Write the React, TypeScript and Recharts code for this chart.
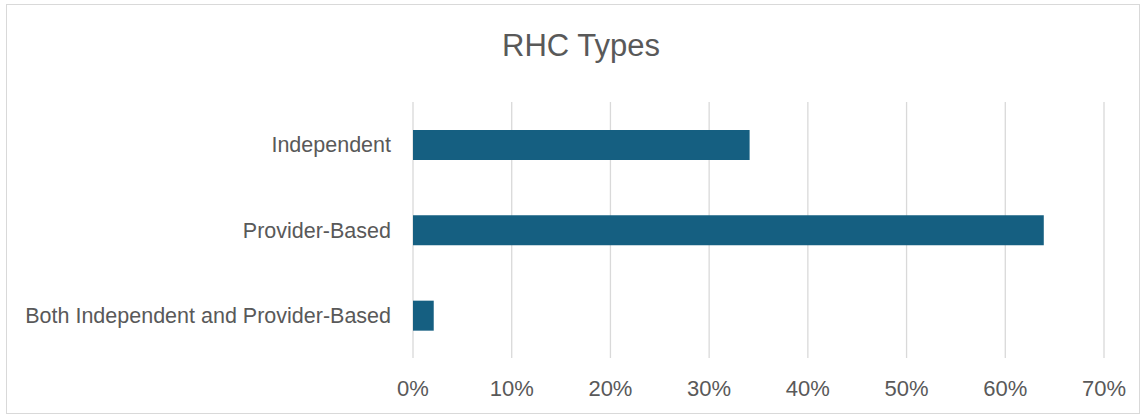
import { BarChart, Bar, XAxis, YAxis, CartesianGrid } from "recharts";

const categories = ["Independent", "Provider-Based", "Both Independent and Provider-Based"];
const shares = [0.341, 0.639, 0.021];
const xTicks = [0, 0.1, 0.2, 0.3, 0.4, 0.5, 0.6, 0.7];

const data = categories.map((name, i) => ({ name, share: shares[i] }));

const FONT = "'Liberation Sans', Arial, sans-serif";
const TEXT = "#595959";

export default function App() {
  return (
    <div style={{ position: "fixed", left: 0, top: 0, width: 1146, height: 418, background: "#fff", fontFamily: FONT }}>
      <div
        style={{
          position: "absolute",
          left: 6,
          top: 4,
          width: 1134,
          height: 410,
          border: "1px solid #d9d9d9",
          boxSizing: "border-box",
        }}
      />
      <div
        style={{
          position: "absolute",
          left: 8,
          width: 1146,
          top: 28,
          textAlign: "center",
          fontSize: 31,
          color: TEXT,
          lineHeight: "36px",
        }}
      >
        RHC Types
      </div>
      <div style={{ position: "absolute", left: 0, top: 0 }}>
        <BarChart
          width={1146}
          height={418}
          data={data}
          layout="vertical"
          margin={{ top: 102, right: 42, bottom: 20, left: 0 }}
        >
          <CartesianGrid horizontal={false} stroke="#d9d9d9" strokeWidth={1.3} />
          <XAxis
            type="number"
            domain={[0, 0.7]}
            ticks={xTicks}
            tickFormatter={(v: number) => `${Math.round(v * 100)}%`}
            axisLine={false}
            tickLine={false}
            tickSize={0}
            tickMargin={22}
            height={40}
            interval={0}
            tick={{ fill: TEXT, fontSize: 22, fontFamily: FONT }}
          />
          <YAxis
            type="category"
            dataKey="name"
            width={413}
            axisLine={false}
            tickLine={false}
            tickSize={0}
            tickMargin={22}
            interval={0}
            tick={{ fill: TEXT, fontSize: 21.5, fontFamily: FONT }}
          />
          <Bar dataKey="share" fill="#155f81" barSize={30} isAnimationActive={false} />
        </BarChart>
      </div>
    </div>
  );
}
